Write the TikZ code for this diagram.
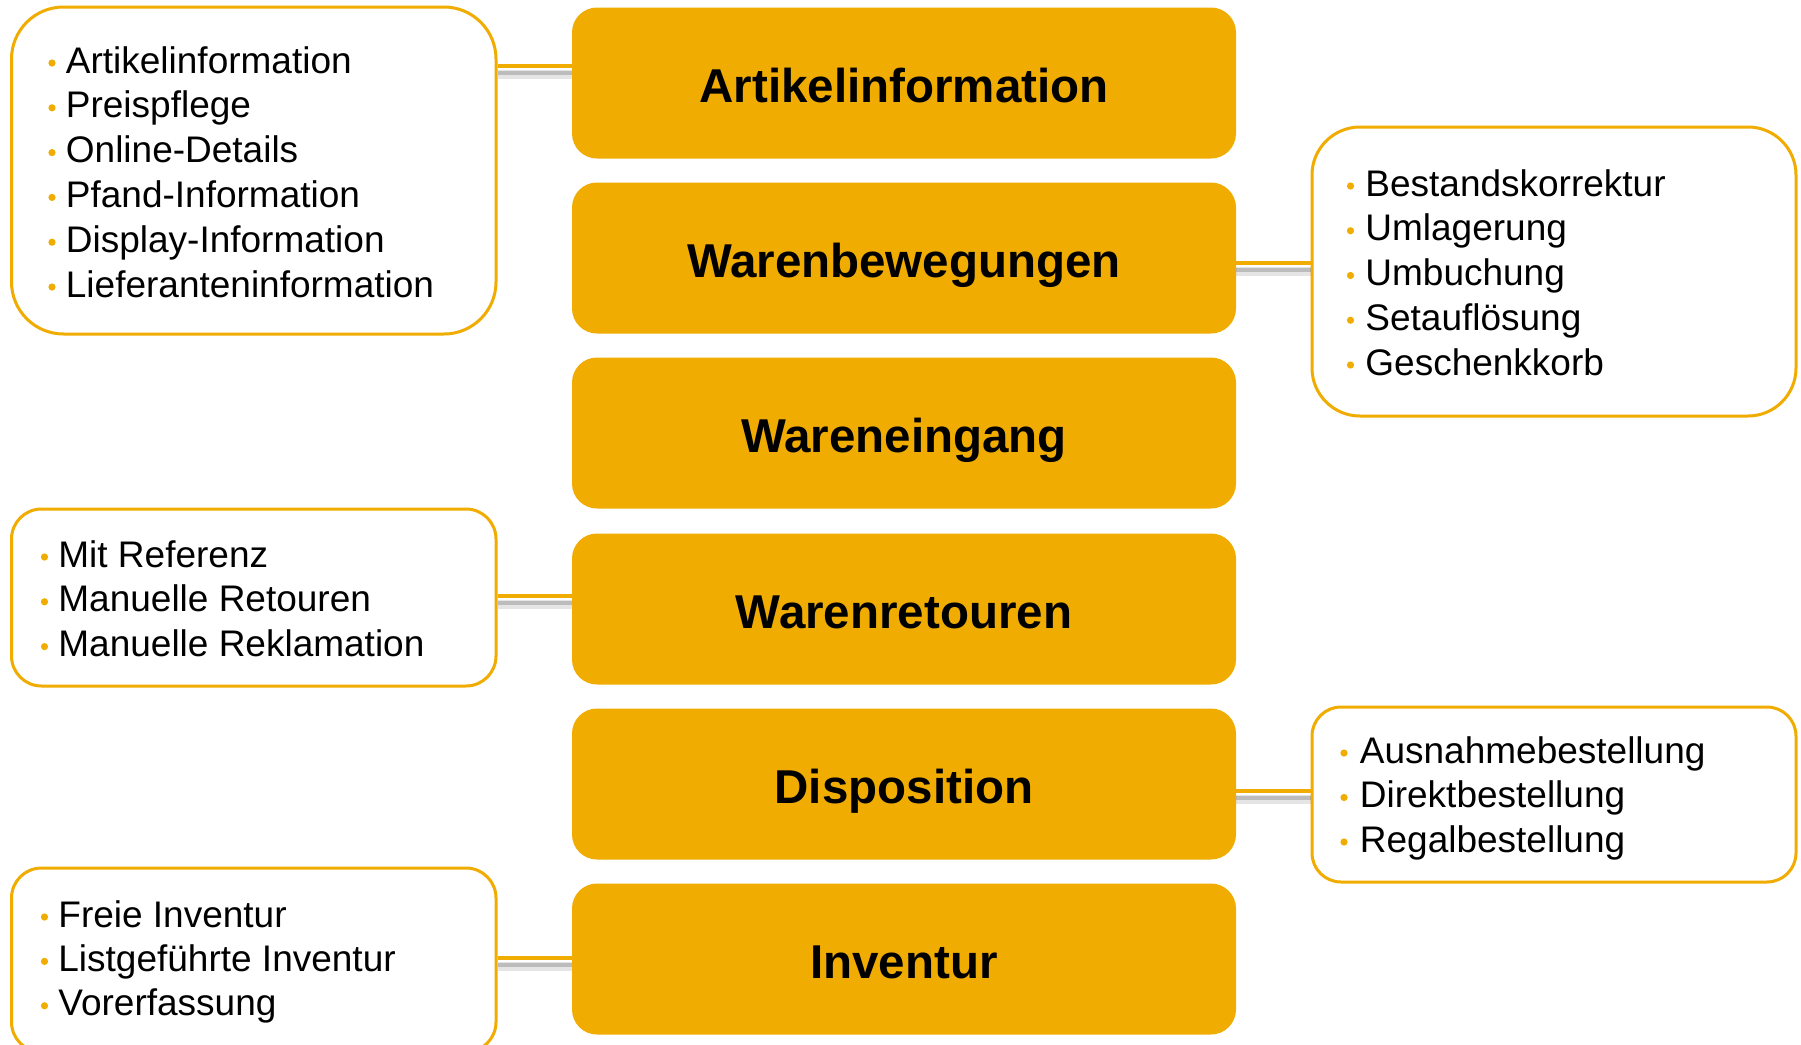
\documentclass[tikz,border=0pt]{standalone}
\usepackage{fontspec}
\setmainfont{Liberation Sans}
\definecolor{sapor}{RGB}{240,172,0}
\begin{document}
\begin{tikzpicture}[x=0.5pt,y=-0.5pt,
  mainbox/.style={fill=sapor, rounded corners=12.5pt, minimum width=332pt, minimum height=75.5pt, inner sep=0pt, text height=23pt, text depth=4pt, font=\fontsize{23.75}{28}\selectfont\bfseries},
  listbox/.style={draw=sapor, line width=1.5pt, fill=white, rounded corners=#1, inner sep=0pt},
  item/.style={anchor=base west, inner sep=0pt, font=\fontsize{18.5}{22}\selectfont},
  link/.style={draw=sapor, line width=1.6pt},
  shadowwide/.style={draw=black, line width=4.5pt, opacity=0.10},
  shadownarrow/.style={draw=black, line width=2.2pt, opacity=0.18}
]
\useasboundingbox (0,0) rectangle (1801,1045);
\clip (0,0) rectangle (1801,1045);

% main boxes
\node[mainbox] (ob1) at (904,83) {Artikelinformation};
\node[mainbox] (ob2) at (904,258) {Warenbewegungen};
\node[mainbox] (ob3) at (904,433) {Wareneingang};
\node[mainbox] (ob4) at (904,609) {Warenretouren};
\node[mainbox] (ob5) at (904,784) {Disposition};
\node[mainbox] (ob6) at (904,959) {Inventur};

% list boxes
\node[listbox=26pt, minimum width=242.25pt, minimum height=163.5pt] (lb1) at (253.75,170.5) {};
\node[listbox=15pt, minimum width=242.25pt, minimum height=88.5pt] (lb2) at (253.75,597.5) {};
\node[listbox=15pt, minimum width=242.25pt, minimum height=92pt] (lb3) at (253.75,960) {};
\node[listbox=24pt, minimum width=242pt, minimum height=144.5pt] (rb1) at (1554,271.5) {};
\node[listbox=14.5pt, minimum width=242pt, minimum height=87.5pt] (rb2) at (1554,794.5) {};

% connectors
\foreach \a/\b/\y in {lb1/ob1/66, lb2/ob4/596, lb3/ob6/958}{
  \draw[shadowwide] (\a.east |- 0,\y+8) -- (\b.west |- 0,\y+8);
  \draw[shadownarrow] (\a.east |- 0,\y+7) -- (\b.west |- 0,\y+7);
  \draw[link] (\a.east |- 0,\y) -- (\b.west |- 0,\y);
}
\foreach \a/\b/\y in {ob2/rb1/263, ob5/rb2/791}{
  \draw[shadowwide] (\a.east |- 0,\y+8) -- (\b.west |- 0,\y+8);
  \draw[shadownarrow] (\a.east |- 0,\y+7) -- (\b.west |- 0,\y+7);
  \draw[link] (\a.east |- 0,\y) -- (\b.west |- 0,\y);
}

% list items
\foreach \t [count=\i from 0] in {Artikelinformation,Preispflege,Online-Details,Pfand-Information,Display-Information,Lieferanteninformation}{
  \fill[sapor] (52,73+\i*44.8-10) circle (1.8pt);
  \node[item] (l1-\i) at (65.5,73+\i*44.8) {\t};
}
\foreach \t [count=\i from 0] in {Mit Referenz,Manuelle Retouren,Manuelle Reklamation}{
  \fill[sapor] (44.5,567+\i*44.8-10) circle (1.8pt);
  \node[item] (l2-\i) at (58,567+\i*44.8) {\t};
}
\foreach \t [count=\i from 0] in {Freie Inventur,Listgeführte Inventur,Vorerfassung}{
  \fill[sapor] (44.5,927+\i*44.4-10) circle (1.8pt);
  \node[item] (l3-\i) at (58,927+\i*44.4) {\t};
}
\foreach \t [count=\i from 0] in {Bestandskorrektur,Umlagerung,Umbuchung,Setauflösung,Geschenkkorb}{
  \fill[sapor] (1350.5,196+\i*44.75-10) circle (1.8pt);
  \node[item] (r1-\i) at (1365,196+\i*44.75) {\t};
}
\foreach \t [count=\i from 0] in {Ausnahmebestellung,Direktbestellung,Regalbestellung}{
  \fill[sapor] (1344,763+\i*44.5-10) circle (1.8pt);
  \node[item] (r2-\i) at (1359.5,763+\i*44.5) {\t};
}
\end{tikzpicture}
\end{document}
